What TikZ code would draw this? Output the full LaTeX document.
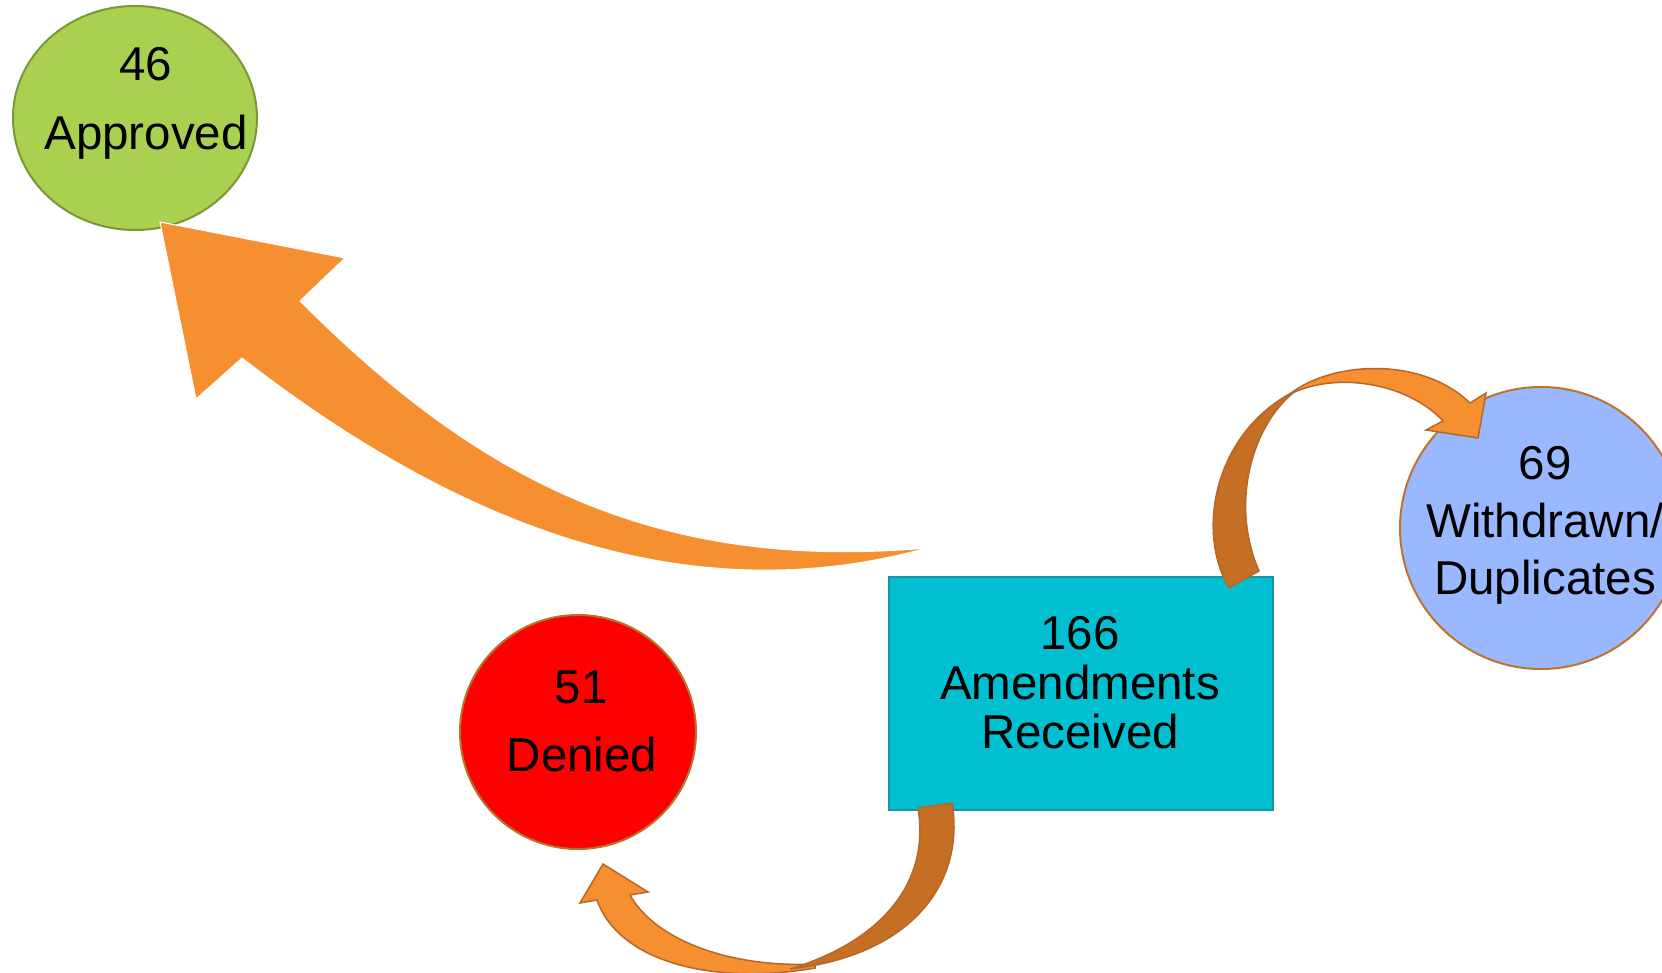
\documentclass[tikz,border=0pt]{standalone}
\usepackage{fontspec}
\setmainfont{Liberation Sans}
\usetikzlibrary{shapes.geometric}
\definecolor{arrowor}{HTML}{F68F2F}
\definecolor{arrowdk}{HTML}{C46F24}
\definecolor{arrowln}{HTML}{B8672A}
\definecolor{apfill}{HTML}{AAD04F}
\definecolor{apline}{HTML}{78983A}
\definecolor{wdfill}{HTML}{99B8FF}
\definecolor{wdline}{HTML}{C0722A}
\definecolor{dnfill}{HTML}{FF0000}
\definecolor{dnline}{HTML}{B8732A}
\definecolor{bxfill}{HTML}{00BFD1}
\definecolor{bxline}{HTML}{17959F}
\begin{document}
\begin{tikzpicture}[x=1pt,y=-1pt,
  lbl/.style={anchor=base, inner sep=0pt, font=\fontsize{47.5}{50}\selectfont},
  oval/.style={ellipse, inner sep=0pt, line width=2pt},
  bigarrow/.style={fill=arrowor, draw=white, line width=1pt, line join=miter},
  lightband/.style={fill=arrowor, draw=arrowln, line width=1.5pt, line join=miter},
  darkband/.style={fill=arrowdk, draw=arrowln, line width=1.5pt, line join=miter}]
\useasboundingbox (0,0) rectangle (1662,973);

% shapes
\node[oval, draw=apline, fill=apfill, minimum width=244pt, minimum height=224pt] (approved) at (135,118) {};
\node[oval, draw=dnline, fill=dnfill, minimum width=236pt, minimum height=234pt] (denied) at (578,732) {};
\node[oval, draw=wdline, fill=wdfill, minimum width=282pt, minimum height=282pt] (withdrawn) at (1541,528) {};
\node[rectangle, draw=bxline, fill=bxfill, line width=2pt, minimum width=384pt, minimum height=233pt, inner sep=0pt] (received) at (1081,693.5) {};

% texts
\node[lbl] (ap1) at (146,81) {46};
\node[lbl] (ap2) at (146,150) {Approved};
\node[lbl] (dn1) at (581,703) {51};
\node[lbl] (dn2) at (582,771) {Denied};
\node[lbl] (wd1) at (1545,479) {69};
\node[lbl] (wd2) at (1545,537) {Withdrawn/};
\node[lbl] (wd3) at (1545,594) {Duplicates};
\node[lbl] (rc1) at (1080,649) {166};
\node[lbl] (rc2) at (1080,699) {Amendments};
\node[lbl] (rc3) at (1080,748) {Received};

% big arrow to Approved
\coordinate (bigtail) at (927,548);
\coordinate (bigtip) at (160,222);
\path[bigarrow] (bigtail) .. controls (645,573) and (470,471) .. (300,301)
  -- (345,258) -- (bigtip) -- (196,399) -- (242,358)
  .. controls (442,513) and (673,618) .. (bigtail) -- cycle;

% arrow to Withdrawn
\coordinate (wdtip) at (1478,438);
\path[darkband] (1229,588) .. controls (1195,530) and (1215,430) .. (1297,390)
  .. controls (1255,420) and (1228,500) .. (1259,571) -- cycle;
\path[lightband] (1290,394) .. controls (1330,362) and (1420,355) .. (1470,403)
  -- (1486,393) -- (wdtip) -- (1426,430) -- (1443,421)
  .. controls (1410,385) and (1340,370) .. (1290,394) -- cycle;

% arrow to Denied
\coordinate (dntip) at (603,864);
\path[lightband] (815,968) .. controls (720,985) and (620,965) .. (597,900)
  -- (580,903) -- (dntip) -- (648,892) -- (630,895)
  .. controls (655,940) and (730,968) .. (815,964) -- cycle;
\path[darkband] (952,803) .. controls (965,880) and (915,955) .. (790,969)
  .. controls (885,940) and (930,880) .. (918,808) -- cycle;
\end{tikzpicture}
\end{document}
